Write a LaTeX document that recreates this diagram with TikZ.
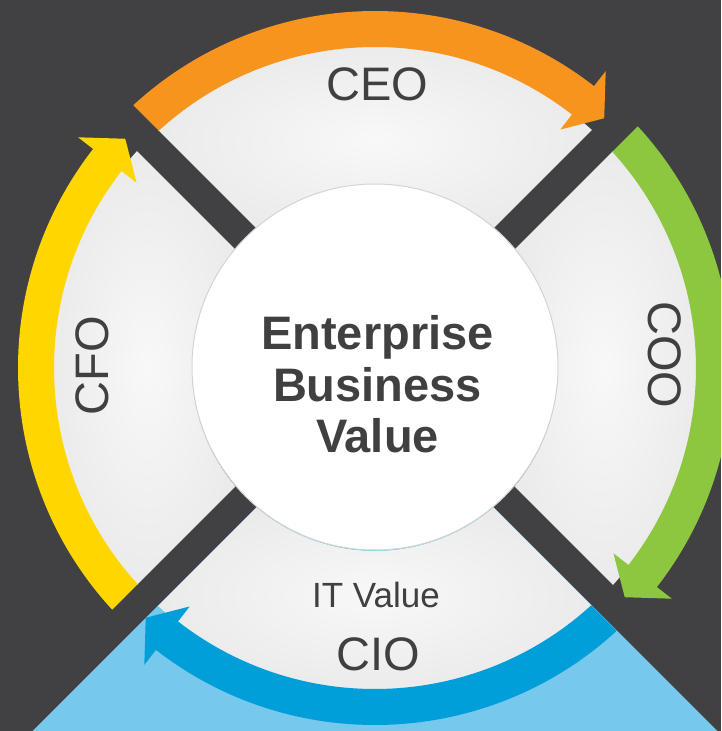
\documentclass[tikz,border=0pt]{standalone}
\usepackage{fontspec}
\setmainfont{Liberation Sans}
\definecolor{bgdark}{RGB}{65,64,66}
\definecolor{ceoorange}{RGB}{247,148,30}
\definecolor{coogreen}{RGB}{141,198,63}
\definecolor{cioblue}{RGB}{0,159,218}
\definecolor{cfoyellow}{RGB}{255,214,0}
\definecolor{lightsky}{RGB}{118,200,236}
\definecolor{segin}{RGB}{248,248,248}
\definecolor{segout}{RGB}{233,233,233}
\definecolor{txtgray}{RGB}{64,63,65}
\definecolor{rimgray}{RGB}{212,212,212}
\begin{document}
\begin{tikzpicture}[x=1pt,y=1pt,
  lbl/.style={text=txtgray, inner sep=0pt, font=\fontsize{47}{56}\selectfont},
  hub/.style={circle, minimum size=366pt, inner sep=0pt, fill=white, draw=rimgray, line width=1pt},
  segfill/.style={inner color=segin, outer color=segout}]
\useasboundingbox (-375,-363) rectangle (346,368);
\clip (-375,-363) rectangle (346,368);
\fill[bgdark] (-375,-363) rectangle (346,368);
% light blue wedge below the CIO quadrant
\fill[lightsky, rotate=-135] (14.5,14.5) rectangle (800,800);
% four quadrants with clockwise arrows
\foreach \ang/\col in {90/ceoorange, 0/coogreen, -90/cioblue, 180/cfoyellow}{
  \begin{scope}
    \clip[rotate=\ang-45] (15,15) rectangle (800,800);
    \pgfmathsetmacro{\aS}{\ang+50}
    \pgfmathsetmacro{\aE}{\ang-50}
    \pgfmathsetmacro{\aB}{\ang-37.85}
    \pgfmathsetmacro{\aBo}{\ang-38.3}
    \pgfmathsetmacro{\aT}{\ang-42.55}
    \shade[segfill] (\aS:322) arc[start angle=\aS, end angle=\aE, radius=322]
      -- (\aE:183) arc[start angle=\aE, end angle=\aS, radius=183] -- cycle;
    \fill[\col] (\aS:357) arc[start angle=\aS, end angle=\aBo, radius=357]
      -- (\aBo:321) arc[start angle=\aBo, end angle=\aS, radius=321] -- cycle;
    \fill[\col] (\aB:302) -- (\aB:376) -- (\aT:339) -- cycle;
  \end{scope}
}
\node[hub] (core) at (0,1) {};
\node[lbl, font=\bfseries\fontsize{47}{51.5}\selectfont, align=center] (ebv) at (2.5,-16.5) {Enterprise\\Business\\Value};
\node[lbl] (ceo) at (2,284) {CEO};
\node[lbl, rotate=-90] (coo) at (290,13) {COO};
\node[lbl, rotate=90] (cfo) at (-283,2) {CFO};
\node[lbl] (cio) at (3,-286) {CIO};
\node[lbl, font=\fontsize{35}{42}\selectfont] (itv) at (1,-227) {IT Value};
\end{tikzpicture}
\end{document}
